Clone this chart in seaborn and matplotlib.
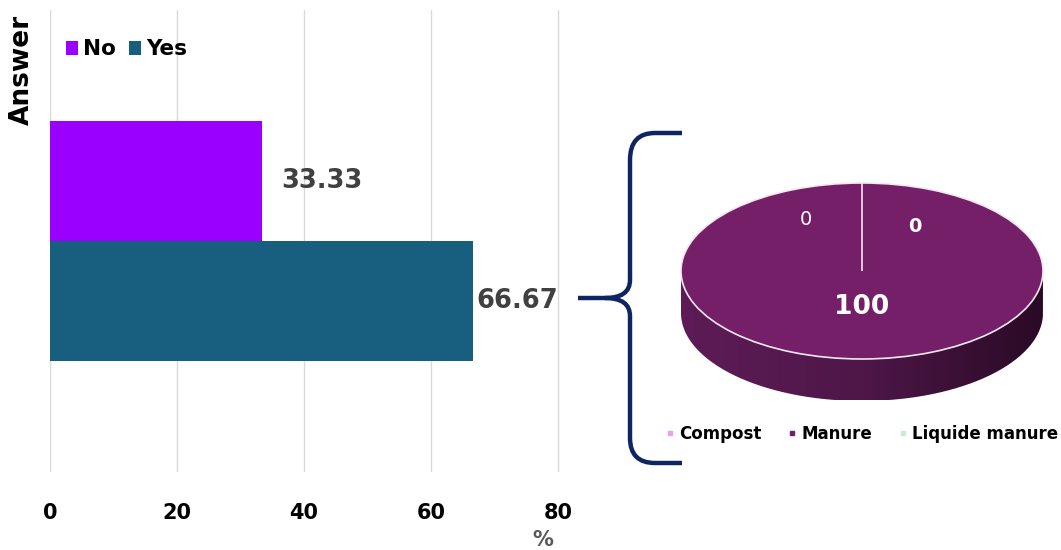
import numpy as np
import pandas as pd
import matplotlib
matplotlib.use("Agg")
import matplotlib.pyplot as plt
import seaborn as sns
from matplotlib.path import Path
from matplotlib.patches import PathPatch
from matplotlib.lines import Line2D

# ---- data ----
answers = ["No", "Yes"]
answer_pct = [33.33, 66.67]
answer_colors = ["#9900FF", "#175E7F"]

manure_types = ["Compost", "Manure", "Liquide manure"]
manure_pct = [0, 100, 0]
manure_colors = ["#E7A3E3", "#751F68", "#C9ECD2"]

x_ticks = [0, 20, 40, 60, 80]

sns.set_theme(style="white")
plt.rcParams["font.family"] = ["DejaVu Sans"]

W, H = 1061, 550
fig = plt.figure(figsize=(W / 100, H / 100), dpi=100)

# ---- horizontal bar chart ----
ax = fig.add_axes([50 / W, 1 - 472 / H, 510 / W, 462 / H])
df = pd.DataFrame({"group": ["Answer"] * 2, "answer": answers, "pct": answer_pct})
sns.barplot(data=df, x="pct", y="group", hue="answer", hue_order=answers,
            palette=answer_colors, orient="h", width=0.52, saturation=1,
            linewidth=0, ax=ax, legend=True)
ax.set_xlim(0, 80.3)
ax.set_ylim(0.5, -0.5)
ax.set_xticks(x_ticks)
ax.set_xticklabels([str(t) for t in x_ticks], fontsize=15, fontweight="bold",
                   color="black")
ax.tick_params(axis="x", length=0, pad=22)
ax.set_yticks([])
ax.grid(axis="x", color="#D9D9D9", linewidth=1)
ax.set_axisbelow(True)
for s in ax.spines.values():
    s.set_visible(False)
ax.set_ylabel("Answer", fontsize=19, fontweight="bold", color="black",
              loc="top")
ax.yaxis.set_label_coords(-0.03, 0.99)
ax.set_xlabel("")
fig.text(543 / W, 1 - 540 / H, "%", fontsize=15, fontweight="bold",
         color="#595959", ha="center", va="center")

for cont, pad in zip(ax.containers, [14, 2]):
    ax.bar_label(cont, labels=[f"{v:.2f}" for v in cont.datavalues],
                 padding=pad, fontsize=18.5, fontweight="bold", color="#404040",
                 clip_on=False)
first = ax.texts[0]
first.set_position((first.get_position()[0], first.get_position()[1] + 0.012))

ax.legend(loc="upper left", bbox_to_anchor=(0.015, 0.955), ncol=2,
          frameon=False, handlelength=0.55, handleheight=0.6,
          handletextpad=0.25, columnspacing=0.6, borderaxespad=0,
          labelcolor="black", prop={"weight": "bold", "size": 15.5})

# ---- 3D-style pie ----
rx_px, ry_px, depth_px = 181, 88, 42
pax = fig.add_axes([681 / W, 1 - 400 / H, 362 / W, 217 / H])
depth = depth_px / ry_px
ylo = 1 - 217 / ry_px

# side wall with left-to-right shading
t = np.linspace(np.pi, 2 * np.pi, 200)
top_edge = np.column_stack([np.cos(t), np.sin(t)])
bot_edge = np.column_stack([np.cos(t[::-1]), np.sin(t[::-1]) - depth])
verts = np.vstack([top_edge, bot_edge, top_edge[:1]])
side = PathPatch(Path(verts), facecolor="none", edgecolor="none")
pax.add_patch(side)
grad = np.linspace(0, 1, 256).reshape(1, -1)
cmap = matplotlib.colors.LinearSegmentedColormap.from_list(
    "side", ["#5E1B57", "#4E1748", "#2A0A26"])
img = pax.imshow(grad, extent=[-1, 1, -1 - depth, 0.1], aspect="auto",
                 cmap=cmap, zorder=1)
img.set_clip_path(side)

wedges, _ = pax.pie(manure_pct, colors=manure_colors, startangle=90,
                    counterclock=False, radius=1,
                    wedgeprops={"edgecolor": "#F2E8F0", "linewidth": 1.2,
                                "zorder": 2})
pax.set_aspect("auto")
pax.set_xlim(-1, 1)
pax.set_ylim(ylo, 1)
pax.axis("off")

# values: Compost left of the seam, Manure centre, Liquide manure right
pax.text(-0.31, 0.59, f"{manure_pct[0]}", color="white", fontsize=14,
         fontweight="normal", ha="center", va="center", zorder=5)
pax.text(0.0, -0.41, f"{manure_pct[1]}", color="white", fontsize=19,
         fontweight="bold", ha="center", va="center", zorder=5)
pax.text(0.29, 0.51, f"{manure_pct[2]}", color="white", fontsize=14,
         fontweight="bold", ha="center", va="center", zorder=5)

handles = [Line2D([], [], marker="s", linestyle="none", markersize=3.5,
                  markerfacecolor=c, markeredgecolor=c) for c in manure_colors]
fig.legend(handles, manure_types, loc="center", bbox_to_anchor=(862 / W, 1 - 434 / H),
           ncol=3, frameon=False, handlelength=0.5, handletextpad=0.3,
           columnspacing=1.6, labelcolor="black",
           prop={"weight": "bold", "size": 12})

# ---- brace ----
oax = fig.add_axes([0, 0, 1, 1], zorder=10)
oax.set_xlim(0, W)
oax.set_ylim(H, 0)
oax.axis("off")
P = Path
brace = [
    (P.MOVETO, (682, 133)),
    (P.LINETO, (655, 133)),
    (P.CURVE3, (630, 133)),
    (P.CURVE3, (630, 160)),
    (P.LINETO, (630, 280)),
    (P.CURVE3, (630, 298)),
    (P.CURVE3, (605, 298)),
    (P.LINETO, (578, 298)),
    (P.MOVETO, (605, 298)),
    (P.CURVE3, (630, 298)),
    (P.CURVE3, (630, 316)),
    (P.LINETO, (630, 438)),
    (P.CURVE3, (630, 463)),
    (P.CURVE3, (655, 463)),
    (P.LINETO, (682, 463)),
]
codes, pts = zip(*brace)
oax.add_patch(PathPatch(Path(pts, codes), facecolor="none", edgecolor="#0F2462",
                        linewidth=3.2, capstyle="butt", joinstyle="round"))

fig.savefig("out.png", dpi=100)
